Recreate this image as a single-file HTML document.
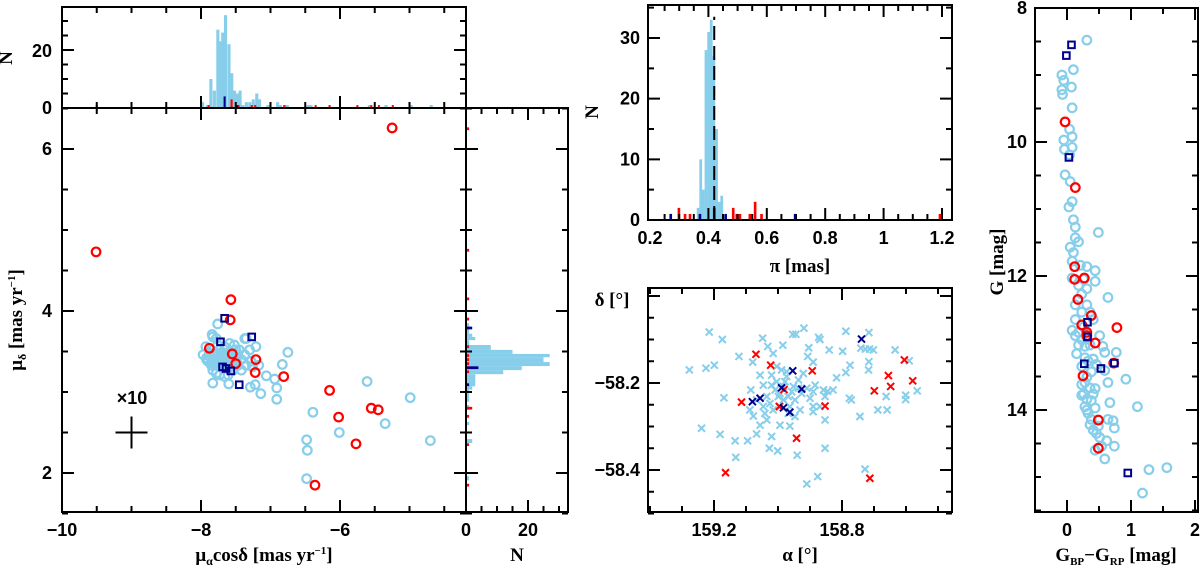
<!DOCTYPE html>
<html><head><meta charset="utf-8"><title>Cluster membership panels</title>
<style>
html,body{margin:0;padding:0;background:#fff;}
svg{display:block;}
text{font-family:"Liberation Sans",sans-serif;font-size:18px;font-weight:bold;fill:#000;}
.ttl{font-family:"Liberation Serif",serif;font-size:19px;font-weight:bold;}
</style></head>
<body>
<svg id="fig" xmlns="http://www.w3.org/2000/svg" width="1200" height="572" viewBox="0 0 1200 572">
<g id="marks"></g>
<g id="axes"></g>
<g id="labels">
  <text x="12" y="58" class="ttl" text-anchor="middle" transform="rotate(-90 12 58)">N</text>
  <text x="22" y="320" class="ttl" text-anchor="middle" transform="rotate(-90 22 320)">μ<tspan font-size="12" dy="4">δ</tspan><tspan dy="-4"> [mas yr</tspan><tspan font-size="11" dy="-7">−1</tspan><tspan dy="7">]</tspan></text>
  <text x="264" y="561" class="ttl" text-anchor="middle">μ<tspan font-size="12" dy="4">α</tspan><tspan dy="-4">cosδ [mas yr</tspan><tspan font-size="11" dy="-7">−1</tspan><tspan dy="7">]</tspan></text>
  <text x="517" y="561" class="ttl" text-anchor="middle">N</text>
  <text x="598" y="112" class="ttl" text-anchor="middle" transform="rotate(-90 598 112)">N</text>
  <text x="800" y="272" class="ttl" text-anchor="middle">π [mas]</text>
  <text x="612" y="306" class="ttl" text-anchor="middle">δ [°]</text>
  <text x="800" y="561" class="ttl" text-anchor="middle">α [°]</text>
  <text x="1003" y="262" class="ttl" text-anchor="middle" transform="rotate(-90 1003 262)">G [mag]</text>
  <text x="1116" y="561" class="ttl" text-anchor="middle">G<tspan font-size="11" dy="4">BP</tspan><tspan dy="-4">−G</tspan><tspan font-size="11" dy="4">RP</tspan><tspan dy="-4"> [mag]</tspan></text>
  <text x="132" y="404" text-anchor="middle">×10</text>
</g>
</svg>
<script>
// ---------- data ----------
// Panel A: proper motions
const pmBlueX=[-7.97,-7.92,-7.90,-7.85,-7.83,-7.78,-7.73,-7.66,-7.61,-7.54,-7.47,-7.42,-7.37,-7.45,-7.52,-7.59,-7.66,-7.73,-7.81,-7.85,-7.78,-7.69,-7.61,-7.54,-7.47,-7.59,-7.64,-7.71,-7.78,-7.42,-7.35,-7.28,-7.26,-7.17,-7.30,-7.83,-7.93,-7.37,-7.88,-7.73,-7.66,-7.83,-7.57,-7.49,-7.76,-7.50,-7.76,-7.84,-7.78,-7.21,-7.35,-6.75,-6.83,-7.06,-6.94,-6.91,-6.91,-7.14,-7.29,-7.22,-7.83,-7.60,-6.39,-5.61,-4.99,-5.35,-6.01,-6.48,-6.47,-4.70,-6.48,
 -7.80,-7.75,-7.70,-7.65,-7.60,-7.55,-7.80,-7.75,-7.70,-7.65,-7.60,-7.55,-7.80,-7.75,-7.70,-7.65,-7.60,-7.55,-7.72,-7.67,-7.62,-7.77,-7.88,-7.92,-7.68,-7.63];
const pmBlueY=[3.46,3.42,3.38,3.33,3.27,3.23,3.21,3.19,3.21,3.27,3.33,3.40,3.46,3.52,3.58,3.60,3.56,3.52,3.48,3.52,3.44,3.42,3.38,3.42,3.46,3.48,3.31,3.31,3.33,3.27,3.33,3.38,3.31,3.33,3.52,3.68,3.56,3.66,3.44,3.38,3.48,3.40,3.31,3.38,3.58,3.52,3.84,3.71,3.66,3.56,3.66,3.49,3.34,3.20,3.16,3.05,2.91,2.98,3.06,3.09,3.11,3.10,2.75,3.13,2.93,2.61,2.50,2.41,2.28,2.40,1.93,
 3.47,3.47,3.47,3.47,3.47,3.47,3.40,3.40,3.40,3.40,3.40,3.40,3.34,3.34,3.34,3.34,3.34,3.34,3.44,3.44,3.44,3.37,3.48,3.40,3.36,3.36];
const pmRedX=[-7.57,-7.58,-7.88,-7.55,-7.50,-7.21,-7.22,-6.81,-6.15,-6.02,-5.55,-5.45,-5.77,-6.36,-9.51,-5.25];
const pmRedY=[4.14,3.89,3.54,3.47,3.35,3.40,3.24,3.19,3.02,2.69,2.80,2.78,2.36,1.85,4.73,6.26];
const pmNavyX=[-7.66,-7.72,-7.27,-7.69,-7.64,-7.57,-7.45];
const pmNavyY=[3.91,3.62,3.68,3.31,3.29,3.26,3.09];
// top histogram (pmRA)
const raHistLo=[-8.0,-7.93,-7.88,-7.83,-7.78,-7.74,-7.71,-7.67,-7.62,-7.58,-7.54,-7.50,-7.46,-7.42,-7.37,-7.32,-7.27,-7.22,-7.18,-7.06,-6.92,-6.88,-6.82,-6.78,-6.48,-6.44,-5.6,-5.36,-5.0,-4.71];
const raHistN=[2,1,10,6,27,23,26,32,22,12,6,5,6,1,2,2,3,5,3,1,2,1,1,1,1,1,1,1,1,1];
const raRedAt=[-9.50,-7.89,-7.56,-7.46,-7.27,-7.22,-6.80,-6.35,-6.15,-6.0,-5.75,-5.55,-5.44,-5.24];
const raRedN=[1,1,3,1,1,1,1,1,1,1,1,1,1,1];
const raNavyAt=[-7.66,-7.48];
const raNavyN=[4,1];
// right histogram (pmDec)
const decHistLo=[3.72,3.68,3.64,3.58,3.52,3.47,3.43,3.37,3.32,3.27,3.22,3.13,3.07,3.03,2.88,2.78,2.59,2.37,1.91];
const decHistHi=[3.85,3.72,3.68,3.64,3.58,3.52,3.47,3.43,3.37,3.32,3.27,3.22,3.13,3.07,3.03,2.84,2.63,2.42,1.96];
const decHistN=[1,2,3,1,8,15,27,25,27,18,12,3,3,2,1,1,1,2,1];
const decRedAt=[6.25,4.75,4.15,3.90,3.56,3.45,3.40,3.35,3.30,3.25,2.80,2.70,2.35,1.85];
const decRedN=[1,1,1,1,1,1,1,1,1,1,2,1,1,1];
const decNavyAt=[3.79,3.30,3.09];
const decNavyN=[2,4,1];
// Panel B: parallax histogram
const plxLo=[0.360,0.369,0.378,0.387,0.396,0.405,0.414,0.423,0.432,0.441];
const plxN=[2,10,5,28,31,33,27,15,3,4];
const plxRedAt=[0.299,0.320,0.337,0.485,0.497,0.508,0.542,0.560,0.582,1.193];
const plxRedN=[2,1,1,2,1,1,1,3,1,1];
const plxNavyAt=[0.271,0.371,0.420,0.459,0.697];
const plxNavyN=[1,1,2,1,1];
const plxMean=0.42;
// Panel C: sky positions
const skyBlueRA=[159.277,159.215,159.174,159.225,159.199,159.169,159.239,159.181,159.134,159.132,159.095,159.122,159.079,159.048,159.032,159.015,158.985,158.954,158.944,158.919,158.904,158.907,158.890,158.873,158.869,158.840,158.798,158.788,158.775,158.788,158.817,158.845,158.828,158.777,158.771,158.744,158.741,158.716,158.727,158.714,158.702,158.716,158.717,158.662,158.688,158.659,158.634,158.590,158.601,158.601,158.565,158.728,158.876,158.910,158.940,158.853,158.853,158.853,159.027,159.001,159.067,159.020,158.994,158.963,159.056,159.035,159.077,159.088,159.085,159.056,159.046,159.020,159.004,158.994,158.973,158.952,158.936,158.926,158.910,158.900,158.884,158.869,158.890,158.931,158.947,158.963,158.983,159.015,159.046,159.067,159.035,159.009,158.983,158.968,158.947,158.921,158.973,158.989,159.004,159.041,158.890,158.858,158.890,159.020,158.999,158.978,158.957,158.936,159.025,158.994,158.968];
const skyBlueDec=[-58.170,-58.083,-58.100,-58.166,-58.159,-58.234,-58.304,-58.318,-58.333,-58.371,-58.333,-58.139,-58.152,-58.097,-58.116,-58.132,-58.113,-58.088,-58.088,-58.074,-58.119,-58.139,-58.152,-58.095,-58.100,-58.124,-58.127,-58.081,-58.159,-58.176,-58.188,-58.219,-58.216,-58.235,-58.239,-58.277,-58.120,-58.084,-58.122,-58.122,-58.124,-58.151,-58.170,-58.231,-58.262,-58.262,-58.124,-58.149,-58.228,-58.238,-58.218,-58.398,-58.415,-58.432,-58.366,-58.350,-58.285,-58.231,-58.350,-58.356,-58.317,-58.323,-58.297,-58.299,-58.297,-58.285,-58.276,-58.262,-58.216,-58.182,-58.205,-58.182,-58.197,-58.224,-58.185,-58.208,-58.193,-58.224,-58.212,-58.235,-58.205,-58.254,-58.266,-58.262,-58.277,-58.254,-58.239,-58.262,-58.254,-58.239,-58.231,-58.216,-58.208,-58.231,-58.239,-58.178,-58.174,-58.170,-58.162,-58.270,-58.220,-58.216,-58.254,-58.205,-58.231,-58.197,-58.220,-58.212,-58.247,-58.254,-58.270];
const skyRedRA=[159.069,159.023,158.893,158.981,159.114,158.996,158.853,158.942,159.164,158.713,158.699,158.655,158.648,158.605,158.579];
const skyRedDec=[-58.134,-58.159,-58.172,-58.215,-58.244,-58.254,-58.253,-58.327,-58.406,-58.419,-58.218,-58.183,-58.208,-58.147,-58.195];
const skyNavyRA=[158.739,158.954,158.989,158.926,159.080,159.056,158.983,158.963];
const skyNavyDec=[-58.099,-58.172,-58.211,-58.214,-58.243,-58.235,-58.257,-58.267];
// Panel D: CMD
const cmdBlueC=[0.31,0.10,-0.08,-0.05,0.07,-0.08,-0.07,0.08,0.04,0.08,-0.05,0.08,-0.04,0.04,-0.03,0.05,0.08,0.03,0.10,0.13,0.49,0.13,0.18,0.05,0.10,0.08,0.21,0.31,0.44,0.08,0.26,0.44,0.18,0.31,0.64,0.23,0.13,0.31,0.23,0.36,0.13,0.41,0.08,0.26,0.31,0.13,0.51,0.18,0.36,0.56,0.59,0.77,0.15,0.28,0.41,0.23,0.46,0.59,0.31,0.44,0.64,0.92,0.23,0.26,0.31,0.38,0.28,0.67,1.10,0.33,0.38,0.64,0.72,0.41,0.74,0.46,0.51,0.62,0.54,0.74,0.59,1.28,1.56,1.18,0.18,0.23,0.28,0.33,0.38,0.28,0.36,0.41,0.23,0.31,0.44,0.36,0.49,0.44];
const cmdBlueG=[8.48,8.92,9.00,9.08,9.18,9.22,9.29,9.49,9.81,9.92,9.97,10.08,10.11,10.19,10.49,10.59,10.89,10.97,11.16,11.27,11.35,11.43,11.49,11.57,11.65,11.78,11.84,11.86,11.92,12.03,12.05,12.08,12.14,12.19,12.32,12.27,12.43,12.43,12.54,12.54,12.65,12.65,12.81,12.76,12.92,12.89,12.89,13.03,13.03,13.05,13.14,13.14,13.16,13.22,13.24,13.35,13.32,13.41,13.51,13.68,13.59,13.54,13.62,13.76,13.84,13.86,13.95,13.89,13.95,14.05,14.14,14.14,14.16,14.30,14.27,14.35,14.41,14.46,14.54,14.54,14.73,14.89,14.86,15.24,12.84,12.95,13.05,13.27,13.43,13.59,13.67,13.76,13.78,14.00,13.97,14.22,14.24,14.60];
const cmdRedC=[-0.03,0.13,0.12,0.12,0.27,0.17,0.38,0.23,0.31,0.31,0.44,0.78,0.73,0.25,0.49,0.49];
const cmdRedG=[9.70,10.68,11.86,12.05,12.03,12.35,12.59,12.73,12.84,12.89,13.00,12.77,13.30,13.49,14.15,14.57];
const cmdNavyC=[0.07,-0.01,0.03,0.32,0.32,0.27,0.53,0.74,0.95];
const cmdNavyG=[8.55,8.71,10.23,12.69,12.91,13.31,13.38,13.30,14.94];

// ---------- rendering ----------
const NS='http://www.w3.org/2000/svg';
const marks=document.getElementById('marks');
const axes=document.getElementById('axes');
const LB='#87ceeb', RED='#ff0000', NAVY='#00008b';
function S(d0,d1,p0,p1){return v=>p0+(v-d0)*(p1-p0)/(d1-d0);}
function mk(tag,attrs,parent){const e=document.createElementNS(NS,tag);for(const k in attrs)e.setAttribute(k,attrs[k]);(parent||marks).appendChild(e);return e;}

const xA=S(-10,-8,62,201), yA=S(6,4,149,311);
const yT=S(0,20,108,50);
const xR=S(0,20,466,528);
const xB=S(0.2,1.2,650,942), yB=S(0,30,220,38);
const xC=S(159.2,158.8,714,842), yC=S(-58.2,-58.4,383,470);
const xD=S(0,1,1067,1131), yD=S(8,14,8,410);

function circ(x,y,c){const e=mk('circle',{cx:x,cy:y,r:4.3,fill:'none',stroke:c,'stroke-width':2.2});

}
function sq(x,y){const e=mk('rect',{x:x-3.3,y:y-3.3,width:6.6,height:6.6,fill:'none',stroke:NAVY,'stroke-width':2});

}
function cross(x,y,c){const e=mk('path',{d:`M${x-3.5},${y-3.5}L${x+3.5},${y+3.5}M${x-3.5},${y+3.5}L${x+3.5},${y-3.5}`,stroke:c,'stroke-width':2,fill:'none'});

}
function vbar(x0,x1,y0,y1,c,name){const e=mk('rect',{x:Math.min(x0,x1),y:Math.min(y0,y1),width:Math.max(Math.abs(x1-x0),1.5),height:Math.abs(y1-y0),fill:c});

}

// top histogram
raHistLo.forEach((v,i)=>vbar(xA(v),xA(v+0.045),yT(0),yT(raHistN[i]),LB,'ra-hist-bar'));
raRedAt.forEach((v,i)=>vbar(xA(v-0.015),xA(v+0.015),yT(0),yT(raRedN[i]),RED,'ra-hist-red'));
raNavyAt.forEach((v,i)=>vbar(xA(v-0.015),xA(v+0.015),yT(0),yT(raNavyN[i]),NAVY,'ra-hist-navy'));
// right histogram
decHistLo.forEach((v,i)=>vbar(xR(0),xR(decHistN[i]),yA(v),yA(decHistHi[i]),LB,'dec-hist-bar'));
decRedAt.forEach((v,i)=>vbar(xR(0),xR(decRedN[i]),yA(v-0.017),yA(v+0.017),RED,'dec-hist-red'));
decNavyAt.forEach((v,i)=>vbar(xR(0),xR(decNavyN[i]),yA(v-0.017),yA(v+0.017),NAVY,'dec-hist-navy'));
// parallax histogram
plxLo.forEach((v,i)=>vbar(xB(v),xB(v+0.0095),yB(0),yB(plxN[i]),LB,'plx-hist-bar'));
plxRedAt.forEach((v,i)=>vbar(xB(v-0.0045),xB(v+0.0045),yB(0),yB(plxRedN[i]),RED,'plx-hist-red'));
plxNavyAt.forEach((v,i)=>vbar(xB(v-0.0045),xB(v+0.0045),yB(0),yB(plxNavyN[i]),NAVY,'plx-hist-navy'));
const dl=mk('line',{x1:xB(plxMean),x2:xB(plxMean),y1:yB(0),y2:yB(33.5),stroke:'#000','stroke-width':2,'stroke-dasharray':'14,6'});


// scatter panels
pmBlueX.forEach((v,i)=>circ(xA(v),yA(pmBlueY[i]),LB));
pmRedX.forEach((v,i)=>circ(xA(v),yA(pmRedY[i]),RED));
pmNavyX.forEach((v,i)=>sq(xA(v),yA(pmNavyY[i])));
skyBlueRA.forEach((v,i)=>cross(xC(v),yC(skyBlueDec[i]),LB));
skyRedRA.forEach((v,i)=>cross(xC(v),yC(skyRedDec[i]),RED));
skyNavyRA.forEach((v,i)=>cross(xC(v),yC(skyNavyDec[i]),NAVY));
cmdBlueC.forEach((v,i)=>circ(xD(v),yD(cmdBlueG[i]),LB));
cmdRedC.forEach((v,i)=>circ(xD(v),yD(cmdRedG[i]),RED));
cmdNavyC.forEach((v,i)=>sq(xD(v),yD(cmdNavyG[i])));
// error cross
const ec=mk('path',{d:`M${xA(-9)-16},${yA(2.5)}H${xA(-9)+16}M${xA(-9)},${yA(2.5)-16}V${yA(2.5)+16}`,stroke:'#000','stroke-width':2,fill:'none'});



// ---------- axes ----------
function frame(x0,y0,x1,y1,name){const e=mk('rect',{x:x0,y:y0,width:x1-x0,height:y1-y0,fill:'none',stroke:'#000','stroke-width':2},axes);

}
function xticks(sc,a,b,step,majEvery,y0,y1){
  let d='';const n=Math.round((b-a)/step);
  for(let i=0;i<=n;i++){const v=a+i*step;const x=sc(v);const maj=Math.abs(Math.round(v/majEvery)*majEvery-v)<1e-6;const L=maj?12:6;
    d+=`M${x},${y1}v${-L}M${x},${y0}v${L}`;}
  mk('path',{d,stroke:'#000','stroke-width':2,fill:'none'},axes);}
function yticks(sc,a,b,step,majEvery,x0,x1){
  let d='';const n=Math.round((b-a)/step);
  for(let i=0;i<=n;i++){const v=a+i*step;const y=sc(v);const maj=Math.abs(Math.round(v/majEvery)*majEvery-v)<1e-6;const L=maj?12:6;
    d+=`M${x0},${y}h${L}M${x1},${y}h${-L}`;}
  mk('path',{d,stroke:'#000','stroke-width':2,fill:'none'},axes);}
function lab(x,y,t,anchor,name){const e=mk('text',{x,y,'text-anchor':anchor||'middle'},axes);e.textContent=t;

}

// top hist
frame(62,7,466,108,'top-hist-frame');
xticks(xA,-9.5,-4.5,0.5,2,7,108);
yticks(yT,0,30,5,20,62,466);
lab(52,114,'0','end','top-hist-tick-0');lab(52,57,'20','end','top-hist-tick-20');
// panel A
frame(62,108,466,512,'pm-frame');
xticks(xA,-9.5,-4.5,0.5,2,108,512);
yticks(yA,1.5,6.5,0.5,2,62,466);
[6,4,2].forEach(v=>lab(52,yA(v)+6,String(v),'end','pm-y-tick'));
[-10,-8,-6].forEach(v=>lab(xA(v),536,'−'+Math.abs(v),'middle','pm-x-tick'));
// right hist
frame(466,108,568,512,'dec-hist-frame');
xticks(xR,0,30,5,20,108,512);
yticks(yA,1.5,6.5,0.5,2,466,568);
lab(xR(0),536,'0','middle','dec-hist-tick-0');lab(xR(20),536,'20','middle','dec-hist-tick-20');
// panel B
frame(648,5,952,220,'parallax-frame');
xticks(xB,0.25,1.2,0.05,0.2,5,220);
yticks(yB,0,35,5,10,648,952);
[0.2,0.4,0.6,0.8,1,1.2].forEach(v=>lab(xB(v),244,String(v),'middle','parallax-x-tick'));
[0,10,20,30].forEach(v=>lab(640,yB(v)+6,String(v),'end','parallax-y-tick'));
// panel C
frame(648,288,952,512,'sky-frame');
xticks(xC,158.5,159.4,0.1,0.4,288,512);
yticks(yC,-58.5,-58.0,0.05,0.2,648,952);
lab(xC(159.2),536,'159.2','middle','ra-tick');lab(xC(158.8),536,'158.8','middle','ra-tick');
lab(640,yC(-58.2)+6,'−58.2','end','dec-tick');lab(640,yC(-58.4)+6,'−58.4','end','dec-tick');
// panel D
frame(1035,8,1198,512,'cmd-frame');
xticks(xD,-0.5,2,0.5,1,8,512);
yticks(yD,8,15.5,0.5,2,1035,1198);
[0,1,2].forEach(v=>lab(xD(v),536,String(v),'middle','cmd-x-tick'));
[8,10,12,14].forEach(v=>lab(1027,yD(v)+6,String(v),'end','cmd-y-tick'));
</script>
</body></html>
